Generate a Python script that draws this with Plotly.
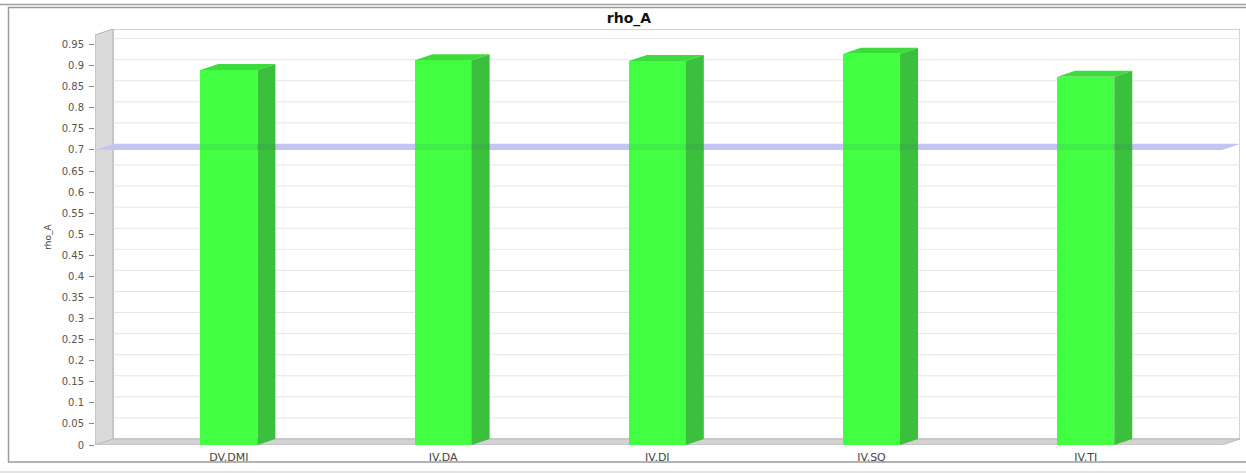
import plotly.graph_objects as go

# ---- data ----
categories = ["DV.DMI", "IV.DA", "IV.DI", "IV.SQ", "IV.TI"]
rho_a = [0.890, 0.913, 0.911, 0.928, 0.874]
threshold = 0.70
y_ticks = [round(0.05 * i, 2) for i in range(20)]  # 0 .. 0.95

# ---- figure geometry ----
W, H = 1246, 473
ML, MR, MT, MB = 95, 6, 29, 28
PW, PH = W - ML - MR, H - MT - MB
X_RANGE = [-0.625, 4.72]
Y_RANGE = [0.0, 0.987]
DEPTH_X_PX, DEPTH_Y_PX = 18, 6
# pseudo-3D depth expressed in axis units
dx = DEPTH_X_PX * (X_RANGE[1] - X_RANGE[0]) / PW
dy = DEPTH_Y_PX * (Y_RANGE[1] - Y_RANGE[0]) / PH
BAR_W = 0.266

FRONT = "#42ff42"
SIDE = "#3bc03d"
TOP = "#3ddc3d"

x_pos = list(range(len(categories)))
x_lo, x_hi = X_RANGE
y_hi = Y_RANGE[1]


def poly(pts):
    return "M " + " L ".join(f"{x},{y}" for x, y in pts) + " Z"


def px_x(px):
    return (px - ML) / PW


def px_y(py):
    return (H - MB - py) / PH


shapes = []

# back wall
shapes.append(dict(type="rect", xref="x", yref="y", x0=x_lo + dx, x1=x_hi, y0=dy, y1=y_hi,
                   fillcolor="white", line=dict(color="#a8a8a8", width=1), layer="below"))
# gridlines on the back wall
for v in y_ticks[1:]:
    shapes.append(dict(type="line", xref="x", yref="y", x0=x_lo + dx, x1=x_hi, y0=v + dy, y1=v + dy,
                       line=dict(color="#e6e6e6", width=1), layer="below"))
# left wall
shapes.append(dict(type="path", xref="x", yref="y",
                   path=poly([(x_lo, 0), (x_lo + dx, dy), (x_lo + dx, y_hi), (x_lo, y_hi - dy)]),
                   fillcolor="#dadada", line=dict(color="#b4b4b4", width=1), layer="below"))
# floor
shapes.append(dict(type="path", xref="x", yref="y",
                   path=poly([(x_lo, 0), (x_lo + dx, dy), (x_hi, dy), (x_hi - dx, 0)]),
                   fillcolor="#d2d2d2", line=dict(color="#bcbcbc", width=1), layer="below"))
# threshold marker band
band = poly([(x_lo, threshold), (x_lo + dx, threshold + dy), (x_hi, threshold + dy), (x_hi - dx, threshold)])
shapes.append(dict(type="path", xref="x", yref="y", path=band,
                   fillcolor="#d2d2fc", line=dict(width=0), layer="between"))

# bar side and top faces
for xc, v in zip(x_pos, rho_a):
    xl, xr = xc - BAR_W / 2, xc + BAR_W / 2
    shapes.append(dict(type="path", xref="x", yref="y",
                       path=poly([(xr, 0), (xr + dx, dy), (xr + dx, v + dy), (xr, v)]),
                       fillcolor=SIDE, line=dict(width=0), layer="above"))
    shapes.append(dict(type="path", xref="x", yref="y",
                       path=poly([(xl, v), (xl + dx, v + dy), (xr + dx, v + dy), (xr, v)]),
                       fillcolor=TOP, line=dict(width=0), layer="above"))

# marker band tint over the bars
shapes.append(dict(type="path", xref="x", yref="y", path=band,
                   fillcolor="rgba(40,40,140,0.08)", line=dict(width=0), layer="above"))

# outer frame lines
shapes.append(dict(type="line", xref="paper", yref="paper", x0=px_x(0), x1=px_x(W), y0=px_y(4.5), y1=px_y(4.5),
                   line=dict(color="#a0a0a0", width=1.5)))
shapes.append(dict(type="rect", xref="paper", yref="paper", x0=px_x(8.5), x1=px_x(W + 5), y0=px_y(462), y1=px_y(7.5),
                   line=dict(color="#9a9a9a", width=1.5)))
shapes.append(dict(type="line", xref="paper", yref="paper", x0=px_x(0), x1=px_x(W), y0=px_y(472), y1=px_y(472),
                   line=dict(color="#c8c8c8", width=1)))

fig = go.Figure()
fig.add_trace(go.Bar(x=x_pos, y=rho_a, width=BAR_W, marker=dict(color=FRONT, line=dict(width=0)),
                     hoverinfo="x+y", showlegend=False))

tick_font = dict(family="DejaVu Sans", size=10, color="#555555")
fig.update_layout(
    width=W, height=H,
    margin=dict(l=ML, r=MR, t=MT, b=MB, pad=0),
    paper_bgcolor="white", plot_bgcolor="rgba(0,0,0,0)",
    title=dict(text="<b>rho_A</b>", x=629 / W, xref="container", xanchor="center",
               y=1 - 18 / H, yref="container", yanchor="middle",
               font=dict(family="DejaVu Sans", size=14, color="#111111")),
    xaxis=dict(range=X_RANGE, tickvals=x_pos, ticktext=categories, showgrid=False, zeroline=False,
               showline=False, ticks="", tickfont=dict(family="DejaVu Sans", size=11, color="#444444"),
               ticklabelstandoff=4, fixedrange=True),
    yaxis=dict(range=Y_RANGE, tickvals=y_ticks, ticktext=[f"{v:g}" for v in y_ticks],
               showgrid=False, zeroline=False, showline=False, ticks="outside", ticklen=5,
               tickcolor="#888888", tickfont=tick_font, ticklabelstandoff=3,
               title=dict(text="rho_A", font=dict(family="DejaVu Sans", size=9, color="#444444"), standoff=8),
               fixedrange=True),
    shapes=shapes,
    bargap=0,
)

fig.write_html("out.html")
